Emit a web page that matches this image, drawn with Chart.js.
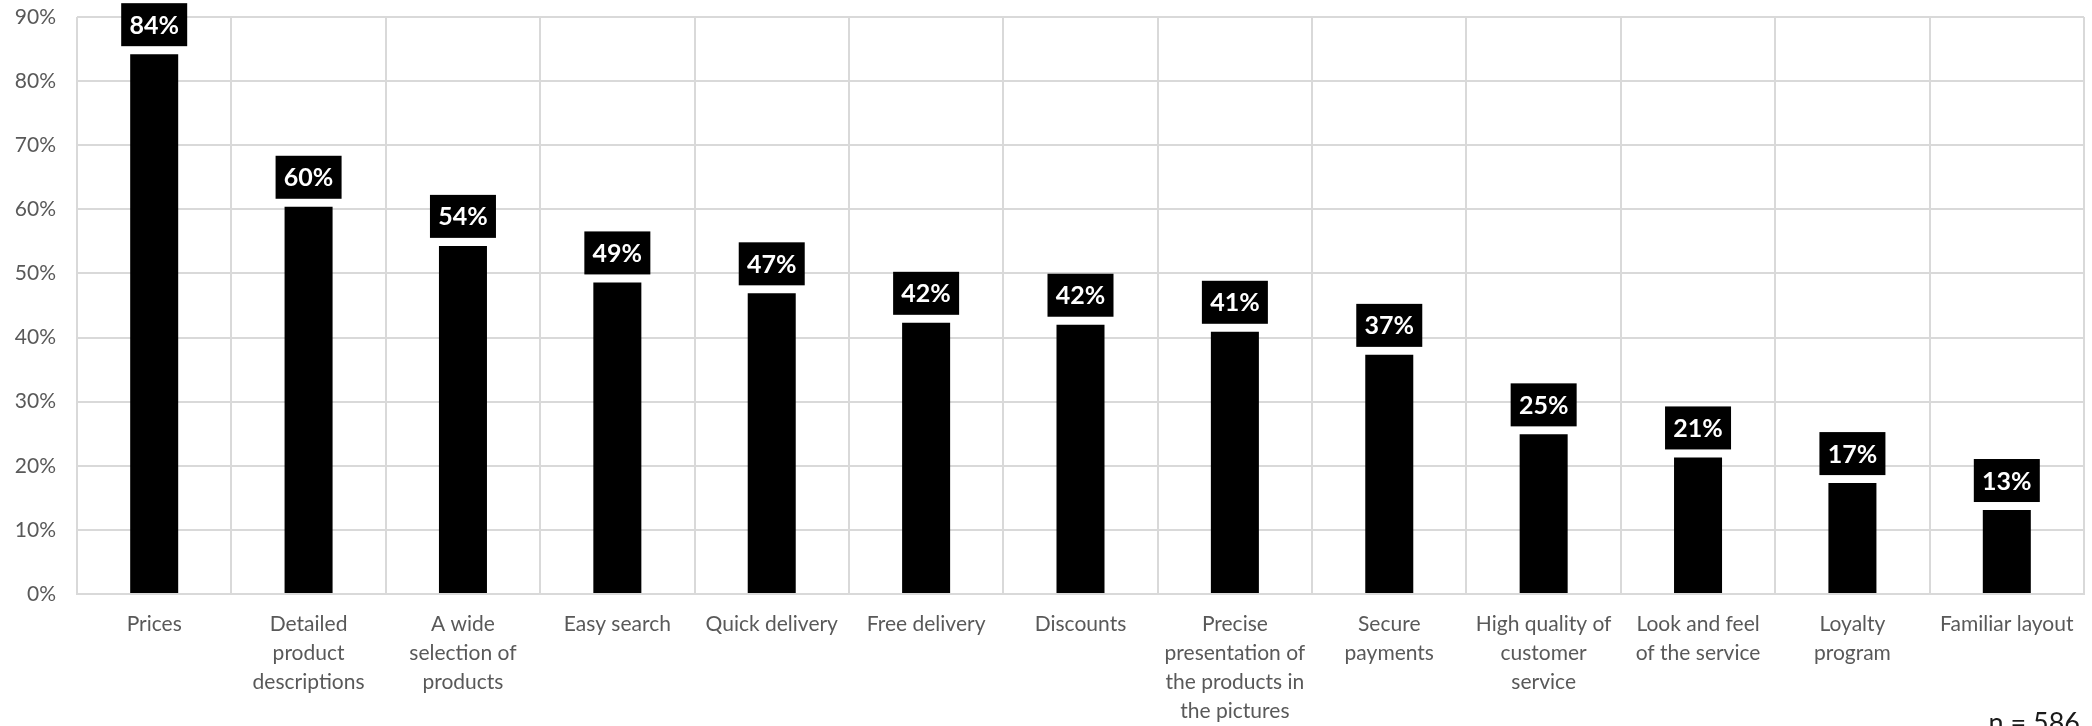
<!DOCTYPE html>
<html>
<head>
<meta charset="utf-8">
<script src="https://cdn.jsdelivr.net/npm/chart.js@4"></script>
<style>
html,body{margin:0;padding:0;background:#fff;}
#wrap{width:2092px;height:726px;position:relative;}
</style>
</head>
<body>
<div id="wrap"><canvas id="c" width="2092" height="726"></canvas></div>
<script>
const categories = [
  ["Prices"],
  ["Detailed", "product", "descriptions"],
  ["A wide", "selection of", "products"],
  ["Easy search"],
  ["Quick delivery"],
  ["Free delivery"],
  ["Discounts"],
  ["Precise", "presentation of", "the products in", "the pictures"],
  ["Secure", "payments"],
  ["High quality of", "customer", "service"],
  ["Look and feel", "of the service"],
  ["Loyalty", "program"],
  ["Familiar layout"]
];
const values = [84.2, 60.4, 54.3, 48.6, 46.9, 42.3, 42.0, 40.9, 37.3, 24.9, 21.3, 17.3, 13.1];
const yTicks = [0, 10, 20, 30, 40, 50, 60, 70, 80, 90];
const note = "n = 586";

const labelPlugin = {
  id: 'boxLabels',
  afterDatasetsDraw(chart) {
    const ctx = chart.ctx;
    const meta = chart.getDatasetMeta(0);
    ctx.save();
    ctx.font = 'bold 25px Lato, "Open Sans", sans-serif';
    ctx.textAlign = 'center';
    ctx.textBaseline = 'middle';
    meta.data.forEach((bar, i) => {
      const txt = Math.round(values[i]) + '%';
      const w = 66, h = 43;
      const x = bar.x, yb = bar.y - 8;
      ctx.fillStyle = '#000';
      ctx.fillRect(x - w / 2, yb - h, w, h);
      ctx.fillStyle = '#fff';
      ctx.fillText(txt, x, yb - h / 2 + 1);
    });
    ctx.restore();
  },
  afterDraw(chart) {
    const ctx = chart.ctx;
    ctx.save();
    ctx.font = '27px Lato, "Open Sans", sans-serif';
    ctx.fillStyle = '#1a1a1a';
    ctx.textAlign = 'right';
    ctx.textBaseline = 'alphabetic';
    ctx.fillText(note, 2080, 732);
    ctx.restore();
  }
};

new Chart(document.getElementById('c'), {
  type: 'bar',
  data: {
    labels: categories,
    datasets: [{
      data: values,
      backgroundColor: '#000',
      borderWidth: 0,
      categoryPercentage: 1,
      barPercentage: 0.311
    }]
  },
  options: {
    responsive: false,
    animation: false,
    layout: { padding: { top: 17, right: 8, left: 0, bottom: 0 } },
    plugins: { legend: { display: false }, tooltip: { enabled: false } },
    scales: {
      x: {
        grid: { color: '#d9d9d9', lineWidth: 2, drawTicks: false, offset: true },
        border: { color: '#d9d9d9', width: 2 },
        ticks: {
          color: '#595959',
          font: { family: 'Lato, "Open Sans", sans-serif', size: 21, lineHeight: 1.38 },
          padding: 16,
          maxRotation: 0,
          autoSkip: false
        },
        afterFit(scale) { scale.height = 132; scale.paddingLeft = 0; scale.paddingRight = 0; }
      },
      y: {
        min: 0, max: 90,
        afterBuildTicks(scale) { scale.ticks = yTicks.map(v => ({ value: v })); },
        grid: { color: '#d9d9d9', lineWidth: 2, drawTicks: false },
        border: { display: false },
        ticks: {
          color: '#595959',
          font: { family: 'Lato, "Open Sans", sans-serif', size: 21 },
          padding: 21,
          callback: v => v + '%'
        },
        afterFit(scale) { scale.width = 77; scale.paddingTop = 0; scale.paddingBottom = 0; }
      }
    }
  },
  plugins: [labelPlugin]
});
</script>
</body>
</html>
